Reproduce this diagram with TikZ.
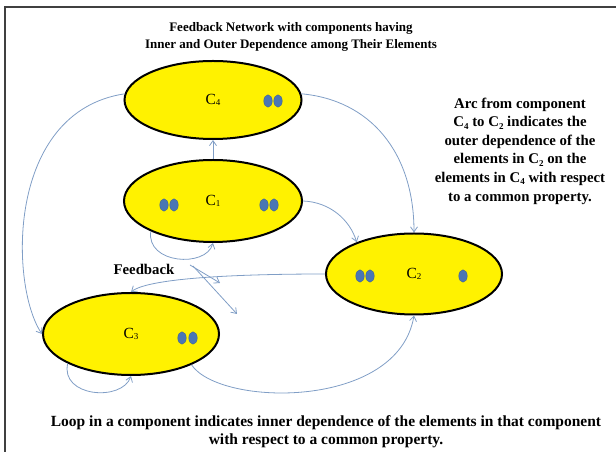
\documentclass[tikz,border=0pt]{standalone}
\usepackage{fontspec}
\setmainfont{Liberation Serif}
\usetikzlibrary{shapes.geometric,arrows.meta}
\definecolor{arccol}{RGB}{128,158,198}
\definecolor{dotcol}{RGB}{74,118,180}
\newcommand{\comp}[1]{C\raisebox{-0.2ex}{\fontsize{9}{9}\selectfont #1}}
\newcommand{\bsub}[1]{C\raisebox{-0.35ex}{\fontsize{9}{9}\selectfont\bfseries #1}}
\tikzset{
  comp/.style={ellipse, draw=black, line width=2pt, fill=yellow, inner sep=0pt,
    font=\fontsize{15.5}{15.5}\selectfont},
  elem/.style={ellipse, fill=dotcol, draw=dotcol!80!black, line width=0.3pt,
    minimum width=8.5pt, minimum height=12.5pt, inner sep=0pt},
  arc/.style={draw=arccol, line width=0.8pt, -{Straight Barb[length=5pt,width=7pt]}},
  note/.style={font=\bfseries\fontsize{14.8}{18.6}\selectfont, align=center, inner sep=0pt},
}
\begin{document}
\begin{tikzpicture}[x=1pt,y=1pt]
\useasboundingbox (0,0) rectangle (616,452);
\draw[line width=1.5pt, color=black!75] (616,445) -- (5,445) -- (5,0);

% title
\node[note, font=\bfseries\fontsize{13}{17}\selectfont] (title) at (291,415.5)
  {Feedback Network with components having\\Inner and Outer Dependence among Their Elements};

% components
\node[comp, minimum width=177pt, minimum height=78pt] (c4) at (213,352) {\comp{4}};
\node[comp, minimum width=178pt, minimum height=82pt] (c1) at (213,251) {\comp{1}};
\node[comp, minimum width=176pt, minimum height=81pt] (c2) at (414,178) {\comp{2}};
\node[comp, minimum width=176pt, minimum height=82pt] (c3) at (131,118) {\comp{3}};

% elements
\node[elem] (e4a) at (268,351) {};
\node[elem] (e4b) at (278,351) {};
\node[elem] (e1a) at (164,247) {};
\node[elem] (e1b) at (174,247) {};
\node[elem] (e1c) at (264,247) {};
\node[elem] (e1d) at (274,247) {};
\node[elem] (e2a) at (360,176) {};
\node[elem] (e2b) at (370,176) {};
\node[elem] (e2c) at (463,176) {};
\node[elem] (e3a) at (182,114) {};
\node[elem] (e3b) at (193,114) {};

% connectors
\draw[arc] (c1.north) -- (c4.south);
\draw[arc] (c1.206) .. controls (146,188) and (206,184) .. (c1.south);
\draw[arc] (c1.0) .. controls (330,250) and (350,232) .. (c2.151);
\draw[arc] (c4.4) .. controls (370,352) and (414,300) .. (c2.north);
\draw[arc] (c4.176) .. controls (5,340) and (10,165) .. (c3.180);
\draw[arc] (c2.180) .. controls (250,178) and (150,175) .. (c3.north);
\draw[arc] (c3.205) .. controls (60,55) and (122,50) .. (c3.south);
\draw[arc] (c3.-27) .. controls (220,45) and (398,42) .. (c2.south);

% feedback
\node[note] (fb) at (144,183) {Feedback};
\coordinate (fbs1) at (190,187);
\coordinate (fbs2) at (193,186);
\coordinate (fbe1) at (220,169);
\coordinate (fbe2) at (237,138);
\draw[arc] (fbs1) -- (fbe1);
\draw[arc] (fbs2) -- (fbe2);

% notes
\node[note] (n1) at (520,301)
  {Arc from component\\ \bsub{4} to \bsub{2} indicates the\\outer dependence of the\\elements in \bsub{2} on the\\elements in \bsub{4} with respect\\to a common property.};
\node[note, font=\bfseries\fontsize{15.5}{18}\selectfont] (n2) at (326,20.5)
  {Loop in a component indicates inner dependence of the elements in that component\\with respect to a common property.};
\end{tikzpicture}
\end{document}
